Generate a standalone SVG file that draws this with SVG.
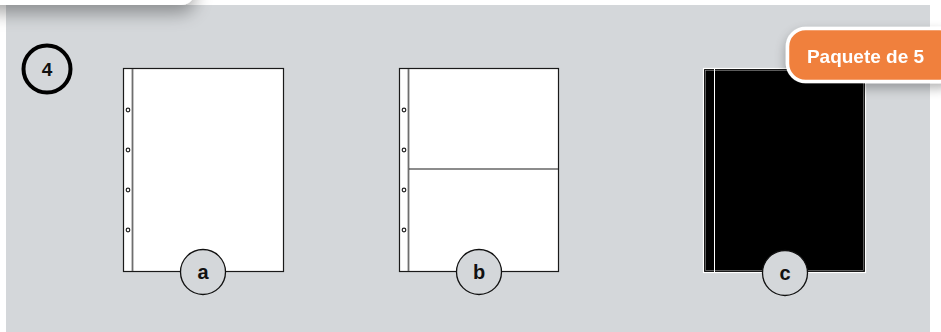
<svg xmlns="http://www.w3.org/2000/svg" width="941" height="332" viewBox="0 0 941 332">
  <defs>
    <filter id="sh" x="-30%" y="-100%" width="160%" height="400%">
      <feGaussianBlur in="SourceAlpha" stdDeviation="9"/>
      <feOffset dy="8"/>
      <feComponentTransfer><feFuncA type="linear" slope="0.35"/></feComponentTransfer>
      <feMerge><feMergeNode/><feMergeNode in="SourceGraphic"/></feMerge>
    </filter>
    <filter id="sh2" x="-30%" y="-50%" width="160%" height="250%">
      <feGaussianBlur in="SourceAlpha" stdDeviation="6"/>
      <feOffset dy="5"/>
      <feComponentTransfer><feFuncA type="linear" slope="0.3"/></feComponentTransfer>
      <feMerge><feMergeNode/><feMergeNode in="SourceGraphic"/></feMerge>
    </filter>
  </defs>
  <style>
    .sheet { fill: #ffffff; stroke: #1a1a1a; stroke-width: 1.2; }
    .strip { stroke: #6e6e6e; stroke-width: 1.8; }
    .hole { fill: #ffffff; stroke: #222; stroke-width: 1.2; }
    .lbl { fill: #d4d7da; stroke: #111; stroke-width: 1.3; }
    .lt { font-family: "Liberation Sans", Arial, sans-serif; font-weight: bold; font-size: 20px; fill: #111; text-anchor: middle; }
  </style>
  <rect x="0" y="0" width="941" height="332" fill="#ffffff"/>
  <rect x="6" y="5" width="924" height="330" fill="#d4d7da"/>
  <g id="card" filter="url(#sh)">
    <rect x="-20" y="-30" width="215" height="35" rx="14" fill="#ffffff"/>
  </g>
  <g id="step">
    <circle cx="47" cy="69" r="23.5" fill="none" stroke="#000" stroke-width="4"/>
    <text x="47" y="76" class="lt" style="font-size:19px">4</text>
  </g>
  <g id="sheet-a">
    <rect x="123.5" y="68.5" width="160" height="203" class="sheet"/>
    <line x1="132.5" y1="69" x2="132.5" y2="271" class="strip"/>
    <circle cx="128" cy="110" r="1.8" class="hole"/>
    <circle cx="128" cy="150" r="1.8" class="hole"/>
    <circle cx="128" cy="190" r="1.8" class="hole"/>
    <circle cx="128" cy="230" r="1.8" class="hole"/>
  </g>
  <g id="label-a">
    <circle cx="203" cy="272" r="22.5" class="lbl"/>
    <text x="203" y="279" class="lt">a</text>
  </g>
  <g id="sheet-b">
    <rect x="399.5" y="68.5" width="159" height="203" class="sheet"/>
    <line x1="408.5" y1="69" x2="408.5" y2="271" class="strip"/>
    <line x1="409" y1="169" x2="558.5" y2="169" stroke="#1a1a1a" stroke-width="1.2"/>
    <circle cx="404" cy="110" r="1.8" class="hole"/>
    <circle cx="404" cy="150" r="1.8" class="hole"/>
    <circle cx="404" cy="190" r="1.8" class="hole"/>
    <circle cx="404" cy="230" r="1.8" class="hole"/>
  </g>
  <g id="label-b">
    <circle cx="479" cy="272" r="22.5" class="lbl"/>
    <text x="479" y="279" class="lt">b</text>
  </g>
  <g id="sheet-c">
    <rect x="703.5" y="68.5" width="162" height="204" fill="#000" stroke="#ffffff" stroke-width="1.2"/>
    <rect x="705.5" y="70.5" width="158" height="200" fill="none" stroke="#9a9a9a" stroke-width="0.6"/>
    <line x1="714.5" y1="69" x2="714.5" y2="272" stroke="#ffffff" stroke-width="1"/>
  </g>
  <g id="label-c">
    <circle cx="785" cy="273" r="22.5" class="lbl"/>
    <text x="785" y="280" class="lt">c</text>
  </g>
  <g id="badge" filter="url(#sh2)">
    <rect x="787.5" y="28.5" width="170" height="53" rx="18" fill="#f0803e" stroke="#ffffff" stroke-width="3.5"/>
    <text x="865.5" y="62.5" font-family="Liberation Sans, Arial, sans-serif" font-weight="bold" font-size="19px" fill="#ffffff" text-anchor="middle">Paquete de 5</text>
  </g>
  <g id="connectors"/>
</svg>
